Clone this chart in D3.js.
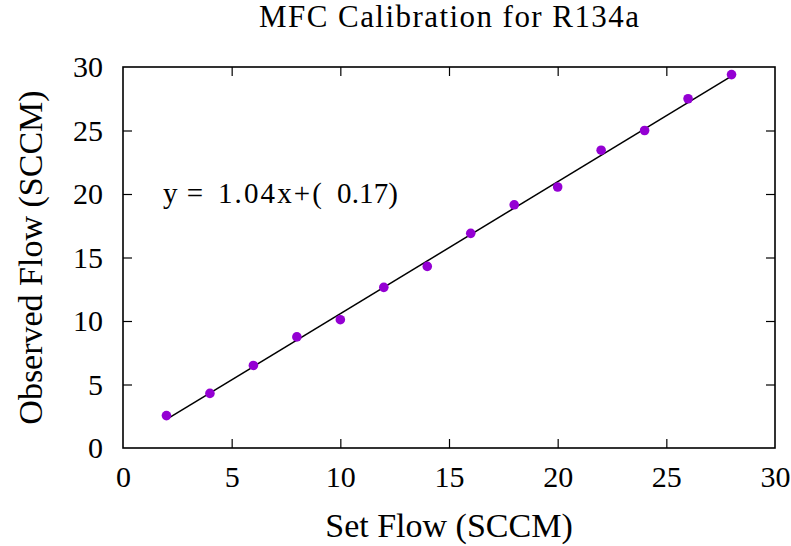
<!DOCTYPE html>
<html>
<head>
<meta charset="utf-8">
<script src="https://cdn.jsdelivr.net/npm/d3@7"></script>
<style>
  html, body { margin: 0; padding: 0; background: #fff; }
  svg text { font-family: "Liberation Serif", "DejaVu Serif", serif; fill: #000; }
</style>
</head>
<body>
<svg id="chart" width="791" height="546"></svg>
<script>
// Set flow vs. observed flow for the R134a mass flow controller
const setFlow = [2, 4, 6, 8, 10, 12, 14, 16, 18, 20, 22, 24, 26, 28];
const observedFlow = [2.55, 4.3, 6.5, 8.75, 10.1, 12.65, 14.3, 16.9, 19.15, 20.55, 23.45, 25.0, 27.5, 29.4];
const xTicks = [0, 5, 10, 15, 20, 25, 30];
const yTicks = [0, 5, 10, 15, 20, 25, 30];
// Linear fit y = slope * x + intercept
const slope = 1.04;
const intercept = 0.17;
const fitRange = [2, 28];

const svg = d3.select("#chart");
const margin = { left: 123, right: 16, top: 67, bottom: 98 };
const W = 791, H = 546;
const serif = '"Liberation Serif", "DejaVu Serif", serif';

const x = d3.scaleLinear().domain([0, 30]).range([margin.left, W - margin.right]);
const y = d3.scaleLinear().domain([0, 30]).range([H - margin.bottom, margin.top]);

const tickLen = 9;
const tickFont = 30;

// Frame
svg.append("rect")
  .attr("x", x(0)).attr("y", y(30))
  .attr("width", x(30) - x(0)).attr("height", y(0) - y(30))
  .attr("fill", "none").attr("stroke", "#000").attr("stroke-width", 1.6);

// Bottom/left axes carry labels, top/right mirror the ticks inward
const gx = svg.append("g").attr("transform", `translate(0,${y(0)})`)
  .call(d3.axisBottom(x).tickValues(xTicks).tickSize(-tickLen).tickPadding(18).tickFormat(d3.format("d")));
const gxTop = svg.append("g").attr("transform", `translate(0,${y(30)})`)
  .call(d3.axisTop(x).tickValues(xTicks).tickSize(-tickLen).tickFormat(""));
const gy = svg.append("g").attr("transform", `translate(${x(0)},0)`)
  .call(d3.axisLeft(y).tickValues(yTicks).tickSize(-tickLen).tickPadding(20).tickFormat(d3.format("d")));
const gyRight = svg.append("g").attr("transform", `translate(${x(30)},0)`)
  .call(d3.axisRight(y).tickValues(yTicks).tickSize(-tickLen).tickFormat(""));

[gx, gxTop, gy, gyRight].forEach(g => {
  g.select(".domain").remove();
  g.selectAll(".tick line").attr("stroke", "#000").attr("stroke-width", 1.2);
  g.selectAll(".tick text").attr("font-size", tickFont)
    .attr("font-family", serif).attr("fill", "#000");
  // ticks at the frame corners would overlap the border
  g.selectAll(".tick").filter(d => d === 0 || d === 30).select("line").remove();
});

// Fit line
const fitLine = d3.line().x(d => x(d)).y(d => y(slope * d + intercept));
svg.append("path")
  .datum(fitRange)
  .attr("d", fitLine)
  .attr("fill", "none").attr("stroke", "#000").attr("stroke-width", 1.5);

// Measured points
svg.append("g").selectAll("circle")
  .data(setFlow.map((d, i) => [d, observedFlow[i]]))
  .join("circle")
  .attr("cx", d => x(d[0])).attr("cy", d => y(d[1]))
  .attr("r", 4.8).attr("fill", "#9400d3");

// Fit equation, set as three runs separated by spaces
const eqPieces = [
  { t: "y=", x0: 163, w: 40 },
  { t: `${slope.toFixed(2)}x+(`, x0: 218, w: 104 },
  { t: `${intercept.toFixed(2)})`, x0: 337, w: 61 }
];
const eq = svg.append("text").attr("y", 203).attr("font-size", 29);
eq.selectAll("tspan").data(eqPieces).join("tspan")
  .attr("x", d => d.x0)
  .attr("textLength", d => d.w)
  .attr("lengthAdjust", "spacing")
  .text(d => d.t);

// Title and axis labels
svg.append("text")
  .attr("x", (x(0) + x(30)) / 2).attr("y", 27)
  .attr("text-anchor", "middle").attr("font-size", 31)
  .attr("textLength", 380).attr("lengthAdjust", "spacing")
  .text("MFC Calibration for R134a");

svg.append("text")
  .attr("x", (x(0) + x(30)) / 2).attr("y", 537)
  .attr("text-anchor", "middle").attr("font-size", 34)
  .text("Set Flow (SCCM)");

svg.append("text")
  .attr("transform", `translate(42,${(y(0) + y(30)) / 2}) rotate(-90)`)
  .attr("text-anchor", "middle").attr("font-size", 34)
  .text("Observed Flow (SCCM)");
</script>
</body>
</html>
